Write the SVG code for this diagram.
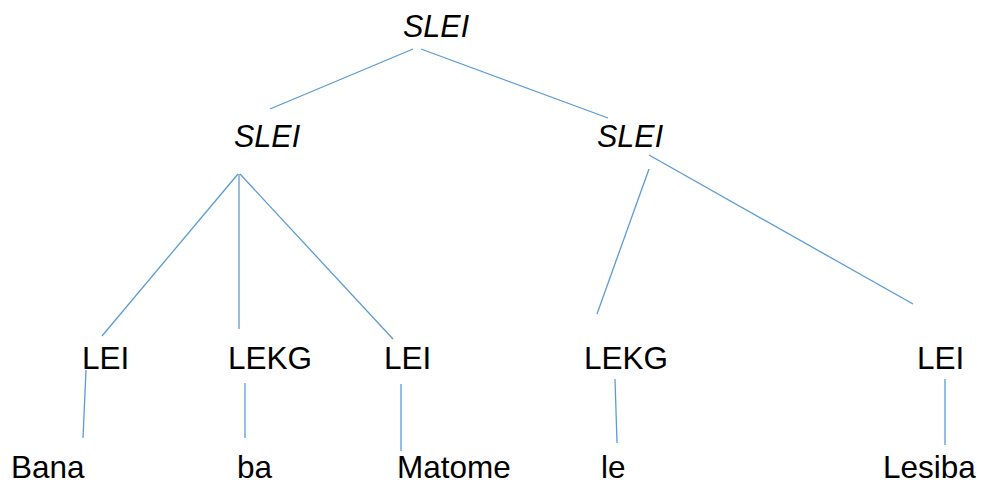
<svg xmlns="http://www.w3.org/2000/svg" width="981" height="482" viewBox="0 0 981 482">
<style>
text{font-family:"Liberation Sans",Arial,sans-serif;font-size:31.5px;fill:#000}
.it{font-style:italic;font-size:30.5px}
line{stroke:#5b9bd5;stroke-width:1.3}
</style>
<rect width="981" height="482" fill="#fff"/>
<g id="connectors">
<line x1="413" y1="49" x2="270" y2="109"/>
<line x1="421" y1="49" x2="608" y2="118"/>
<line x1="238" y1="174" x2="102" y2="336"/>
<line x1="239" y1="174" x2="239" y2="329"/>
<line x1="240" y1="174" x2="393" y2="339"/>
<line x1="649" y1="169" x2="597" y2="314"/>
<line x1="649" y1="155" x2="913" y2="304"/>
<line x1="86" y1="370" x2="83" y2="438"/>
<line x1="245" y1="383" x2="245" y2="438"/>
<line x1="401" y1="384" x2="401" y2="451"/>
<line x1="615" y1="379" x2="617" y2="443"/>
<line x1="945" y1="379" x2="945" y2="445"/>
</g>
<g id="n_root"><text class="it" x="403" y="37">SLEI</text></g>
<g id="n_slei_left"><text class="it" x="234" y="147">SLEI</text></g>
<g id="n_slei_right"><text class="it" x="597" y="147">SLEI</text></g>
<g id="n_lei1"><text x="82" y="369">LEI</text></g>
<g id="n_lekg1"><text x="228" y="369">LEKG</text></g>
<g id="n_lei2"><text x="384" y="369">LEI</text></g>
<g id="n_lekg2"><text x="584" y="369">LEKG</text></g>
<g id="n_lei3"><text x="917" y="369">LEI</text></g>
<g id="w_bana"><text x="11" y="478">Bana</text></g>
<g id="w_ba"><text x="237" y="478">ba</text></g>
<g id="w_matome"><text x="397" y="478">Matome</text></g>
<g id="w_le"><text x="601" y="478">le</text></g>
<g id="w_lesiba"><text x="883" y="478">Lesiba</text></g>
</svg>
